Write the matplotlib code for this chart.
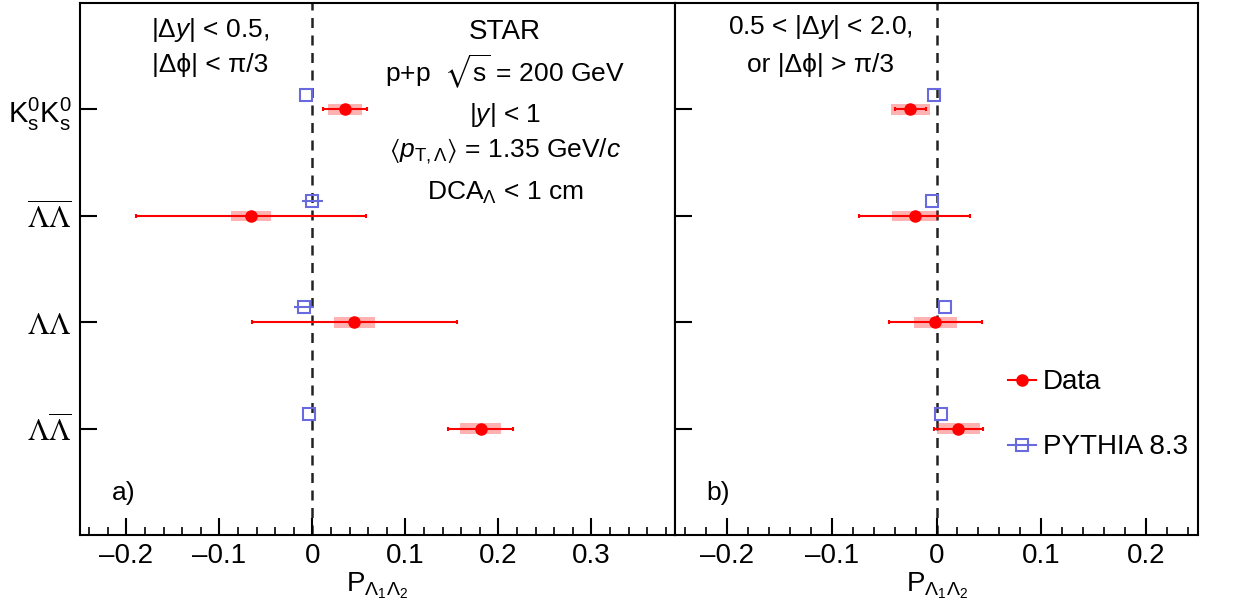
import numpy as np
import matplotlib.pyplot as plt
from matplotlib.lines import Line2D
from matplotlib.ticker import MultipleLocator

plt.rcParams["font.family"] = ["Liberation Sans", "DejaVu Sans"]
plt.rcParams["mathtext.fontset"] = "custom"
plt.rcParams["mathtext.rm"] = "Liberation Sans"
plt.rcParams["mathtext.it"] = "Liberation Sans:italic"
plt.rcParams["mathtext.bf"] = "Liberation Sans:bold"
plt.rcParams["mathtext.fallback"] = "stixsans"

# pair categories, top to bottom
pairs = [
    r"$\mathrm{K}^{0}_{\mathrm{s}}\mathrm{K}^{0}_{\mathrm{s}}$",
    r"$\overline{\Lambda}\overline{\Lambda}$",
    r"$\Lambda\Lambda$",
    r"$\Lambda\overline{\Lambda}$",
]
pair_pos = [4, 3, 2, 1]

# panel a) |dy| < 0.5, |dphi| < pi/3
data_a = [0.035, -0.066, 0.045, 0.181]
stat_a = [0.024, 0.124, 0.110, 0.035]
sys_a = [0.018, 0.022, 0.022, 0.022]
pythia_a = [-0.007, 0.0, -0.009, -0.004]
pythia_err_a = [0.0, 0.011, 0.011, 0.0]

# panel b) 0.5 < |dy| < 2.0 or |dphi| > pi/3
data_b = [-0.025, -0.021, -0.001, 0.021]
stat_b = [0.015, 0.053, 0.044, 0.023]
sys_b = [0.019, 0.022, 0.021, 0.021]
pythia_b = [-0.002, -0.004, 0.008, 0.004]
pythia_err_b = [0.0, 0.0, 0.0, 0.0]

xticks_a = [-0.2, -0.1, 0, 0.1, 0.2, 0.3]
xticks_b = [-0.2, -0.1, 0, 0.1, 0.2]

RED = "#ff0000"
BLUE = "#6a6ae0"
FS = 19


def tick_label(v):
    if v == 0:
        return "0"
    return f"{v:.1f}".replace("-", "\u2013")


def draw_panel(ax, data, stat, sys, pythia, perr, xlim, xticks):
    data = np.array(data)
    sys = np.array(sys)
    ax.barh(pair_pos, 2 * sys, left=data - sys, height=0.1,
            color=RED, alpha=0.3, lw=0, zorder=2)
    ax.errorbar(data, pair_pos, xerr=stat, fmt="o", color=RED, ms=8,
                elinewidth=1.5, capsize=1.5, capthick=1.5, zorder=4)
    ax.errorbar(pythia, np.array(pair_pos) + 0.14, xerr=perr, fmt="s",
                color=BLUE, mfc="none", mec=BLUE, ms=9, mew=1.5,
                elinewidth=1.5, capsize=0, zorder=3)
    ax.axvline(0, color="#222222", ls=(0, (4, 3)), lw=1.8, zorder=1)

    ax.set_xlim(*xlim)
    ax.set_ylim(0, 5)
    ax.set_xticks(xticks)
    ax.set_xticklabels([tick_label(v) for v in xticks])
    ax.xaxis.set_minor_locator(MultipleLocator(0.02))
    ax.tick_params(axis="x", which="major", direction="in", length=12,
                   width=1.5, labelsize=FS + 1, pad=6)
    ax.tick_params(axis="x", which="minor", direction="in", length=6,
                   width=1.2)
    ax.tick_params(axis="y", which="major", direction="in", length=12,
                   width=1.5, labelsize=FS + 2, pad=6)
    ax.set_yticks(pair_pos)
    ax.set_xlabel(r"P$_{\Lambda_1\Lambda_2}$", fontsize=FS + 1, labelpad=1)
    for sp in ax.spines.values():
        sp.set_linewidth(1.5)


fig = plt.figure(figsize=(12.57, 6.04), dpi=100)
ax_a = fig.add_axes([0.0636, 0.1142, 0.4734, 0.8808])
ax_b = fig.add_axes([0.5370, 0.1142, 0.4161, 0.8808])

draw_panel(ax_a, data_a, stat_a, sys_a, pythia_a, pythia_err_a,
           (-0.25, 0.39), xticks_a)
draw_panel(ax_b, data_b, stat_b, sys_b, pythia_b, pythia_err_b,
           (-0.25, 0.25), xticks_b)

ax_a.set_yticklabels(pairs)
for lbl in ax_a.get_yticklabels():
    if "Lambda" in lbl.get_text():
        lbl.set_math_fontfamily("stix")
        lbl.set_fontsize(FS + 3)
ax_b.set_yticklabels([])

# panel a annotations
ax_a.text(0.218, 0.949, r"|$\Delta y$| < 0.5,", transform=ax_a.transAxes,
          ha="center", va="center", fontsize=FS)
ax_a.text(0.218, 0.883, "|\u0394\u03d5| < \u03c0/3", transform=ax_a.transAxes,
          ha="center", va="center", fontsize=FS)
star_lines = [
    ("STAR", 0.945),
    (r"p+p  $\sqrt{\mathrm{s}}$ = 200 GeV", 0.870),
    (r"|$y$| < 1", 0.789),
    (r"$\langle p_{\mathrm{T},\Lambda}\rangle$ = 1.35 GeV/$c$", 0.722),
    (r"DCA$_{\Lambda}$ < 1 cm", 0.643),
]
for txt, yy in star_lines:
    ax_a.text(0.714, yy, txt, transform=ax_a.transAxes, ha="center",
              va="center", fontsize=FS + (1 if txt == "STAR" else 0))
ax_a.text(0.074, 0.079, "a)", transform=ax_a.transAxes, ha="center",
          va="center", fontsize=FS)

# panel b annotations
ax_b.text(0.279, 0.955, r"0.5 < |$\Delta y$| < 2.0,", transform=ax_b.transAxes,
          ha="center", va="center", fontsize=FS)
ax_b.text(0.279, 0.883, "or |\u0394\u03d5| > \u03c0/3", transform=ax_b.transAxes,
          ha="center", va="center", fontsize=FS)
ax_b.text(0.082, 0.079, "b)", transform=ax_b.transAxes, ha="center",
          va="center", fontsize=FS)

handles = [
    Line2D([], [], color=RED, marker="o", ms=8, lw=1.5),
    Line2D([], [], color=BLUE, marker="s", mfc="none", mec=BLUE, ms=9,
           mew=1.5, lw=1.5),
]
ax_b.legend(handles, ["Data", "PYTHIA 8.3"], loc="center left",
            bbox_to_anchor=(0.61, 0.226), frameon=False, fontsize=FS + 1,
            handlelength=1.0, handletextpad=0.25, labelspacing=1.4,
            borderpad=0)

fig.savefig("out.png", dpi=100)
